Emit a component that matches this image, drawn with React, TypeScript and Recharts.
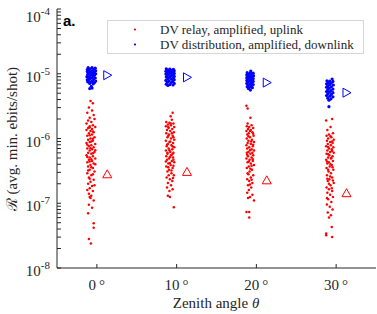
import { ScatterChart, Scatter, XAxis, YAxis } from "recharts";

// zenith angle axis
const angleTicks = [0, 10, 20, 30];
const decadeTicks = [1e-8, 1e-7, 1e-6, 1e-5, 1e-4];
const minorTicks = [
  2e-8, 3e-8, 4e-8, 5e-8, 6e-8, 7e-8, 8e-8, 9e-8,
  2e-7, 3e-7, 4e-7, 5e-7, 6e-7, 7e-7, 8e-7, 9e-7,
  2e-6, 3e-6, 4e-6, 5e-6, 6e-6, 7e-6, 8e-6, 9e-6,
  2e-5, 3e-5, 4e-5, 5e-5, 6e-5, 7e-5, 8e-5, 9e-5,
];

// DV relay, amplified, uplink (angle, ebits/shot)
const relay0 = [
  [-0.8, 3.8e-6], [-0.5, 3.5e-6], [-1.0, 3.0e-6], [-0.6, 2.7e-6], [-1.2, 2.5e-6], [-0.4, 2.3e-6],
  [-0.9, 2.1e-6], [-0.3, 2.0e-6], [-1.1, 1.9e-6], [-0.7, 1.8e-6], [-1.3, 1.7e-6], [-0.5, 1.6e-6],
  [-0.9, 1.55e-6], [-0.2, 1.5e-6], [-0.9, 1.48e-6], [-1.1, 1.45e-6], [-0.6, 1.4e-6], [-1.3, 1.35e-6],
  [-0.8, 1.3e-6], [-0.5, 1.28e-6], [-0.4, 1.25e-6], [-1.0, 1.2e-6], [-0.6, 1.15e-6], [-0.9, 1.12e-6],
  [-1.2, 1.1e-6], [-0.3, 1.05e-6], [-0.8, 1.0e-6], [-0.5, 9.9e-7], [-1.1, 9.6e-7], [-0.5, 9.2e-7],
  [-0.7, 9.0e-7], [-0.9, 8.8e-7], [-1.3, 8.5e-7], [-0.2, 8.2e-7], [-1.2, 8.0e-7], [-0.7, 7.9e-7],
  [-1.0, 7.6e-7], [-0.4, 7.3e-7], [-0.8, 7.1e-7], [-1.2, 7.0e-7], [-0.6, 6.8e-7], [-0.2, 6.6e-7],
  [-0.9, 6.5e-7], [-0.3, 6.2e-7], [-1.1, 6.0e-7], [-0.5, 5.9e-7], [-0.7, 5.8e-7], [-1.3, 5.5e-7],
  [-0.5, 5.3e-7], [-1.2, 5.2e-7], [-0.9, 5.1e-7], [-0.2, 4.9e-7], [-0.7, 4.8e-7], [-1.0, 4.7e-7],
  [-0.6, 4.5e-7], [-0.9, 4.4e-7], [-1.2, 4.3e-7], [-0.4, 4.1e-7], [-0.2, 4.0e-7], [-0.8, 3.9e-7],
  [-1.1, 3.7e-7], [-0.7, 3.6e-7], [-0.5, 3.5e-7], [-0.9, 3.3e-7], [-1.1, 3.2e-7], [-0.3, 3.1e-7],
  [-1.2, 2.9e-7], [-0.5, 2.8e-7], [-0.7, 2.7e-7], [-1.0, 2.5e-7], [-0.9, 2.4e-7], [-0.4, 2.3e-7],
  [-0.8, 2.15e-7], [-1.1, 2.0e-7], [-0.3, 1.9e-7], [-0.6, 1.85e-7], [-0.9, 1.7e-7], [-1.2, 1.6e-7],
  [-0.5, 1.55e-7], [-1.0, 1.4e-7], [-0.7, 1.3e-7], [-0.9, 1.25e-7], [-0.8, 1.2e-7], [-0.4, 1.1e-7],
  [-1.0, 9.5e-8], [-0.6, 8.5e-8], [-1.1, 7e-8], [-0.4, 4.9e-8], [-0.4, 4.2e-8], [-1.0, 2.8e-8],
  [-0.75, 2.4e-8],
];
const relay10 = [
  [9.5, 2.5e-6], [9.25, 2.2e-6], [9.4, 1.95e-6], [8.7, 1.8e-6], [9.1, 1.75e-6], [9.25, 1.7e-6],
  [9.6, 1.7e-6], [8.9, 1.65e-6], [9.3, 1.6e-6], [8.65, 1.55e-6], [8.95, 1.5e-6], [9.7, 1.5e-6],
  [9.0, 1.45e-6], [9.45, 1.4e-6], [8.8, 1.35e-6], [9.2, 1.3e-6], [9.65, 1.25e-6], [8.7, 1.2e-6],
  [9.4, 1.2e-6], [9.05, 1.15e-6], [9.5, 1.1e-6], [8.95, 1.1e-6], [8.85, 1.05e-6], [9.6, 1.05e-6],
  [9.3, 1.0e-6], [9.7, 9.6e-7], [8.65, 9.2e-7], [9.2, 9.0e-7], [9.1, 8.8e-7], [9.55, 8.5e-7],
  [8.9, 8.2e-7], [8.8, 8.0e-7], [9.35, 7.9e-7], [8.75, 7.6e-7], [9.5, 7.5e-7], [9.7, 7.3e-7],
  [9.0, 7.0e-7], [9.45, 6.8e-7], [9.1, 6.6e-7], [8.65, 6.5e-7], [9.2, 6.2e-7], [9.6, 6.0e-7],
  [8.85, 6.0e-7], [8.85, 5.8e-7], [9.45, 5.7e-7], [9.3, 5.5e-7], [8.7, 5.3e-7], [9.15, 5.2e-7],
  [9.55, 5.1e-7], [9.05, 4.9e-7], [8.8, 4.7e-7], [9.6, 4.7e-7], [9.4, 4.5e-7], [8.65, 4.4e-7],
  [9.7, 4.3e-7], [9.15, 4.2e-7], [8.95, 4.1e-7], [9.25, 3.9e-7], [9.6, 3.8e-7], [8.7, 3.7e-7],
  [8.95, 3.6e-7], [9.5, 3.5e-7], [9.05, 3.3e-7], [9.35, 3.2e-7], [8.85, 3.1e-7], [9.35, 2.9e-7],
  [9.0, 2.7e-7], [9.65, 2.7e-7], [8.75, 2.5e-7], [9.55, 2.45e-7], [9.15, 2.35e-7], [9.45, 2.2e-7],
  [8.9, 2.05e-7], [9.3, 1.9e-7], [8.8, 1.75e-7], [9.5, 1.65e-7], [9.1, 1.55e-7], [8.9, 1.3e-7],
  [9.15, 1.25e-7], [9.65, 8.7e-8],
];
const relay20 = [
  [18.75, 3.2e-6], [18.9, 2.9e-6], [19.25, 2.1e-6], [18.9, 1.7e-6], [19.4, 1.6e-6], [18.8, 1.55e-6],
  [19.1, 1.5e-6], [19.6, 1.45e-6], [18.95, 1.4e-6], [19.3, 1.35e-6], [18.75, 1.3e-6], [19.2, 1.3e-6],
  [19.5, 1.25e-6], [19.05, 1.2e-6], [19.6, 1.18e-6], [18.85, 1.15e-6], [19.65, 1.1e-6], [19.0, 1.08e-6],
  [19.2, 1.05e-6], [18.8, 1.0e-6], [19.45, 9.6e-7], [19.0, 9.2e-7], [19.35, 9.0e-7], [19.7, 8.8e-7],
  [18.9, 8.5e-7], [19.3, 8.2e-7], [19.6, 8.0e-7], [18.75, 7.9e-7], [19.55, 7.6e-7], [19.1, 7.3e-7],
  [18.85, 7.0e-7], [19.4, 6.8e-7], [19.2, 6.6e-7], [19.7, 6.5e-7], [19.0, 6.2e-7], [18.8, 6.0e-7],
  [19.5, 6.0e-7], [19.25, 5.8e-7], [18.85, 5.6e-7], [19.6, 5.5e-7], [18.95, 5.3e-7], [19.4, 5.1e-7],
  [18.75, 4.9e-7], [19.55, 4.8e-7], [19.15, 4.7e-7], [19.55, 4.5e-7], [19.05, 4.4e-7], [18.9, 4.3e-7],
  [19.3, 4.1e-7], [19.7, 3.9e-7], [19.4, 3.8e-7], [19.05, 3.7e-7], [18.8, 3.5e-7], [19.25, 3.4e-7],
  [19.45, 3.3e-7], [19.15, 3.1e-7], [18.9, 2.9e-7], [19.0, 2.8e-7], [19.6, 2.7e-7], [19.3, 2.5e-7],
  [18.85, 2.35e-7], [19.4, 2.3e-7], [19.1, 2.2e-7], [19.5, 2.05e-7], [19.2, 1.95e-7], [18.95, 1.9e-7],
  [19.35, 1.75e-7], [19.05, 1.6e-7], [18.85, 1.45e-7], [19.5, 1.35e-7], [19.2, 1.25e-7], [18.95, 1.2e-7],
  [19.7, 1.1e-7], [18.75, 7.3e-8], [19.1, 7.3e-8], [19.1, 6e-8],
];
const relay30 = [
  [29.5, 2.0e-6], [28.75, 1.9e-6], [29.3, 1.5e-6], [28.9, 1.35e-6], [29.6, 1.2e-6], [29.1, 1.15e-6],
  [28.8, 1.1e-6], [29.3, 1.08e-6], [29.4, 1.05e-6], [29.0, 1.0e-6], [29.7, 9.6e-7], [28.85, 9.2e-7],
  [29.5, 9.0e-7], [29.25, 8.8e-7], [29.55, 8.5e-7], [28.95, 8.2e-7], [29.35, 7.9e-7], [28.75, 7.6e-7],
  [29.0, 7.4e-7], [29.65, 7.3e-7], [29.1, 7.0e-7], [29.45, 6.8e-7], [28.9, 6.5e-7], [29.5, 6.4e-7],
  [29.25, 6.2e-7], [29.7, 6.0e-7], [28.8, 5.8e-7], [29.0, 5.7e-7], [29.15, 5.5e-7], [29.55, 5.3e-7],
  [29.0, 5.1e-7], [29.4, 5.0e-7], [29.35, 4.9e-7], [28.75, 4.7e-7], [29.6, 4.5e-7], [28.85, 4.4e-7],
  [29.1, 4.3e-7], [28.9, 4.1e-7], [29.3, 4.0e-7], [29.45, 3.9e-7], [29.2, 3.7e-7], [29.55, 3.6e-7],
  [28.8, 3.5e-7], [29.65, 3.3e-7], [29.0, 3.3e-7], [29.05, 3.1e-7], [29.35, 2.9e-7], [28.85, 2.7e-7],
  [29.25, 2.6e-7], [29.5, 2.5e-7], [28.9, 2.4e-7], [29.15, 2.35e-7], [29.6, 2.25e-7], [28.95, 2.2e-7],
  [29.7, 2.05e-7], [29.1, 2.0e-7], [29.3, 1.9e-7], [28.8, 1.75e-7], [29.45, 1.7e-7], [29.1, 1.65e-7],
  [29.5, 1.55e-7], [28.9, 1.45e-7], [29.25, 1.35e-7], [29.6, 1.25e-7], [28.85, 1.2e-7], [29.0, 1.15e-7],
  [29.4, 1.05e-7], [28.85, 9.6e-8], [29.2, 8.8e-8], [29.55, 8.0e-8], [28.95, 7.2e-8], [29.35, 6.5e-8],
  [29.1, 6.0e-8], [29.45, 4.3e-8], [28.75, 3.4e-8], [28.75, 3.2e-8], [29.5, 3.0e-8],
];

// DV distribution, amplified, downlink
const dist0 = [
  [-1.1, 1.24e-5], [-0.6, 1.24e-5], [-0.2, 1.22e-5], [-0.85, 1.19e-5], [-0.35, 1.18e-5], [-1.2, 1.16e-5],
  [-1.0, 1.13e-5], [-0.55, 1.12e-5], [-0.15, 1.11e-5], [-1.2, 1.08e-5], [-0.75, 1.07e-5], [-0.3, 1.06e-5],
  [-0.95, 1.03e-5], [-0.5, 1.02e-5], [-0.15, 1.0e-5], [-1.15, 9.8e-6], [-0.7, 9.7e-6], [-0.3, 9.5e-6],
  [-0.9, 9.3e-6], [-0.45, 9.2e-6], [-1.25, 9.0e-6], [-1.05, 8.8e-6], [-0.6, 8.7e-6], [-0.2, 8.6e-6],
  [-0.85, 8.4e-6], [-0.4, 8.3e-6], [-1.2, 8.1e-6], [-1.0, 7.9e-6], [-0.55, 7.8e-6], [-0.15, 7.7e-6],
  [-1.15, 7.5e-6], [-0.7, 7.4e-6], [-0.3, 7.3e-6], [-0.9, 7.1e-6], [-0.45, 7.0e-6], [-0.7, 6.4e-6],
  [-0.6, 6.0e-6], [-0.9, 5.9e-6],
];
const dist10 = [
  [8.7, 1.19e-5], [9.15, 1.18e-5], [9.6, 1.17e-5], [8.9, 1.14e-5], [9.35, 1.13e-5], [9.7, 1.11e-5],
  [8.65, 1.09e-5], [9.1, 1.08e-5], [9.5, 1.06e-5], [8.85, 1.04e-5], [9.3, 1.03e-5], [9.7, 1.01e-5],
  [8.65, 9.9e-6], [9.05, 9.8e-6], [9.5, 9.6e-6], [8.85, 9.4e-6], [9.3, 9.3e-6], [9.7, 9.1e-6],
  [8.7, 8.9e-6], [9.1, 8.8e-6], [9.55, 8.6e-6], [8.9, 8.4e-6], [9.35, 8.3e-6], [9.7, 8.1e-6],
  [8.65, 7.9e-6], [9.05, 7.8e-6], [9.5, 7.6e-6], [8.85, 7.4e-6], [9.3, 7.3e-6], [9.7, 7.1e-6],
  [8.7, 6.9e-6], [9.15, 6.8e-6], [9.55, 6.7e-6], [8.9, 6.6e-6],
];
const dist20 = [
  [19.3, 1.1e-5], [18.85, 1.04e-5], [19.25, 1.03e-5], [19.6, 1.02e-5], [19.05, 9.9e-6], [19.45, 9.8e-6],
  [18.8, 9.6e-6], [19.2, 9.4e-6], [19.65, 9.3e-6], [18.95, 9.1e-6], [19.4, 8.9e-6], [18.8, 8.7e-6],
  [19.15, 8.6e-6], [19.6, 8.4e-6], [18.95, 8.2e-6], [19.35, 8.1e-6], [18.8, 7.9e-6], [19.15, 7.8e-6],
  [19.6, 7.6e-6], [18.95, 7.4e-6], [19.4, 7.3e-6], [18.8, 7.1e-6], [19.2, 6.9e-6], [19.6, 6.8e-6],
  [18.95, 6.6e-6], [19.35, 6.5e-6], [18.85, 6.3e-6], [19.15, 6.2e-6], [19.5, 6.1e-6], [19.0, 5.9e-6],
  [19.25, 5.6e-6],
];
const dist30 = [
  [29.5, 8.3e-6], [28.85, 7.8e-6], [29.2, 7.7e-6], [29.6, 7.6e-6], [29.0, 7.3e-6], [29.4, 7.2e-6],
  [28.8, 7.0e-6], [29.2, 6.8e-6], [29.65, 6.7e-6], [28.95, 6.5e-6], [29.4, 6.3e-6], [28.8, 6.2e-6],
  [29.15, 6.0e-6], [29.6, 5.8e-6], [28.95, 5.7e-6], [29.35, 5.5e-6], [28.8, 5.3e-6], [29.15, 5.2e-6],
  [29.6, 5.1e-6], [28.95, 4.9e-6], [29.4, 4.8e-6], [28.8, 4.6e-6], [29.2, 4.5e-6], [29.6, 4.4e-6],
  [28.95, 4.2e-6], [29.35, 4.1e-6], [29.1, 3.9e-6], [29.1, 3.1e-6],
];

// averages (triangles)
const avgAngles = [1.3, 11.3, 21.3, 31.3];
const relayAvg = [2.8e-7, 3.05e-7, 2.26e-7, 1.43e-7];
const distAvg = [9.5e-6, 8.8e-6, 7.3e-6, 5.1e-6];

const toPoints = (pairs: number[][]) => pairs.map(([x, y]) => ({ x, y }));
const relayPoints = toPoints([...relay0, ...relay10, ...relay20, ...relay30]);
const distPoints = toPoints([...dist0, ...dist10, ...dist20, ...dist30]);
const relayAvgPoints = avgAngles.map((x, i) => ({ x, y: relayAvg[i] }));
const distAvgPoints = avgAngles.map((x, i) => ({ x, y: distAvg[i] }));

const ink = "#262626";
const serif = "'Liberation Serif', 'DejaVu Serif', serif";

const dot = (color: string, r: number) => (p: any) => (
  <circle cx={p.cx} cy={p.cy} r={r} fill={color} />
);

const upTriangle = (p: any) => (
  <polygon
    points={`${p.cx - 4.5},${p.cy + 3.5} ${p.cx + 4.5},${p.cy + 3.5} ${p.cx},${p.cy - 4.5}`}
    fill="none"
    stroke="#ff0000"
    strokeWidth={1}
  />
);

const rightTriangle = (p: any) => (
  <polygon
    points={`${p.cx - 3.5},${p.cy - 4.5} ${p.cx - 3.5},${p.cy + 4.5} ${p.cx + 4.5},${p.cy}`}
    fill="none"
    stroke="#0000ff"
    strokeWidth={1}
  />
);

const DecadeTick = (props: any) => {
  const { x, y, payload } = props;
  const idx = decadeTicks.indexOf(payload.value);
  if (idx < 0) return <g />;
  const exp = Math.round(Math.log10(payload.value));
  // the top label sits a little lower, as in the original figure
  const shift = payload.value === 1e-4 ? 13 : 8;
  return (
    <text x={x} y={y + shift} textAnchor="end" fill={ink} fontFamily={serif} fontSize={15}>
      10
      <tspan dy={-7} fontSize={11}>{exp}</tspan>
    </text>
  );
};

export default function App() {
  const yTicks = [...decadeTicks, ...minorTicks];
  return (
    <div style={{ position: "absolute", left: 0, top: 0, width: 377, height: 314, background: "#fff" }}>
      <ScatterChart width={377} height={314} margin={{ top: 9, right: 1, bottom: 0, left: 0 }}>
        <XAxis
          xAxisId="b"
          dataKey="x"
          type="number"
          domain={[-5, 35]}
          ticks={angleTicks}
          interval={0}
          allowDataOverflow
          height={46}
          tickSize={-4}
          tickMargin={15}
          stroke={ink}
          tick={{ fill: ink, fontSize: 15, fontFamily: serif }}
          tickFormatter={(v) => `${v}\u2009°`}
        />
        <XAxis
          xAxisId="t"
          orientation="top"
          type="number"
          domain={[-5, 35]}
          ticks={angleTicks}
          interval={0}
          allowDataOverflow
          height={0}
          tickSize={-4}
          tick={false}
          stroke={ink}
        />
        <YAxis
          yAxisId="l"
          dataKey="y"
          type="number"
          scale="log"
          domain={[1e-8, 1e-4]}
          ticks={yTicks}
          interval={0}
          allowDataOverflow
          width={57}
          tickSize={-4}
          tickMargin={11}
          stroke={ink}
          tick={<DecadeTick />}
        />
        <YAxis
          yAxisId="r"
          orientation="right"
          type="number"
          scale="log"
          domain={[1e-8, 1e-4]}
          ticks={yTicks}
          interval={0}
          allowDataOverflow
          width={0}
          tickSize={-4}
          tick={false}
          stroke={ink}
        />
        <Scatter xAxisId="b" yAxisId="l" data={relayPoints} shape={dot("#ff0000", 1.25)} isAnimationActive={false} />
        <Scatter xAxisId="b" yAxisId="l" data={distPoints} shape={dot("#0000ff", 1.6)} isAnimationActive={false} />
        <Scatter xAxisId="b" yAxisId="l" data={relayAvgPoints} shape={upTriangle} isAnimationActive={false} />
        <Scatter xAxisId="b" yAxisId="l" data={distAvgPoints} shape={rightTriangle} isAnimationActive={false} />
      </ScatterChart>

      {/* titles, panel letter and legend */}
      <svg width={377} height={314} style={{ position: "absolute", left: 0, top: 0, pointerEvents: "none" }}>
        <text x={63} y={26} fontFamily="'Liberation Sans', Arial, sans-serif" fontWeight={700} fontSize={15} fill="#000">
          a.
        </text>
        <text
          x={17}
          y={139}
          transform="rotate(-90 17 139)"
          textAnchor="middle"
          fontFamily={serif}
          fontSize={15}
          fill={ink}
        >
          ℛ (avg. min. ebits/shot)
        </text>
        <text x={216} y={308} textAnchor="middle" fontFamily={serif} fontSize={15} fill={ink}>
          Zenith angle <tspan fontStyle="italic">θ</tspan>
        </text>
        <rect x={107.5} y={20.5} width={256} height={33} fill="#fff" stroke="#d6d6d6" />
        <circle cx={135} cy={29.5} r={1.1} fill="#ff0000" />
        <circle cx={135} cy={44.5} r={1.1} fill="#0000ff" />
        <text x={160} y={33.5} fontFamily={serif} fontSize={13} fill={ink}>
          DV relay, amplified, uplink
        </text>
        <text x={160} y={48.5} fontFamily={serif} fontSize={13} fill={ink}>
          DV distribution, amplified, downlink
        </text>
      </svg>
    </div>
  );
}
